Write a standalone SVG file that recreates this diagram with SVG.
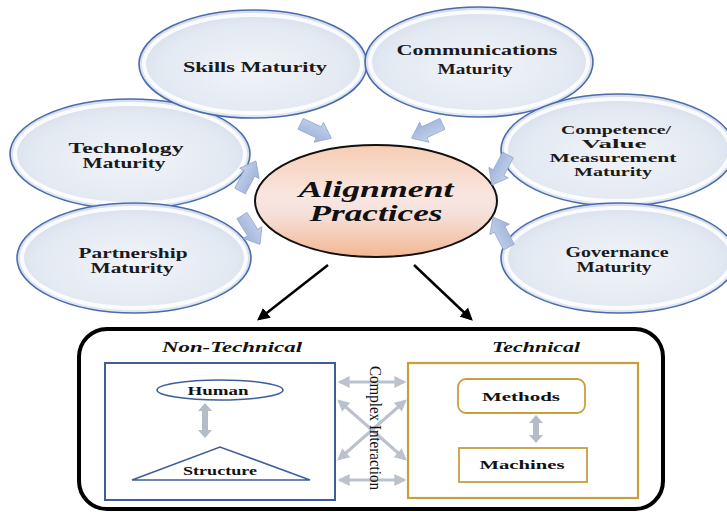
<svg xmlns="http://www.w3.org/2000/svg" width="727" height="512" viewBox="0 0 727 512">
<defs>
<radialGradient id="gBlue" cx="0.5" cy="0.55" r="0.6">
<stop offset="0" stop-color="#f1f4f9"/>
<stop offset="0.7" stop-color="#e3e9f2"/>
<stop offset="1" stop-color="#cfd8e6"/>
</radialGradient>
<linearGradient id="gPeach" x1="0" y1="0" x2="0" y2="1">
<stop offset="0" stop-color="#f6cdb3"/>
<stop offset="0.45" stop-color="#f9e6e0"/>
<stop offset="0.6" stop-color="#f6e2dc"/>
<stop offset="1" stop-color="#f2b793"/>
</linearGradient>
<linearGradient id="gArr" x1="0" y1="0" x2="0" y2="1">
<stop offset="0" stop-color="#c3d1ea"/>
<stop offset="1" stop-color="#9fb3da"/>
</linearGradient>
<path id="blk" d="M-17,-6 L3,-6 L3,-11 L17,0 L3,11 L3,6 L-17,6 Z"/>
<marker id="mBlack" viewBox="0 0 10 10" refX="8" refY="5" markerWidth="5" markerHeight="5" orient="auto">
<path d="M0,0 L10,5 L0,10 Z" fill="#000"/>
</marker>
<marker id="mGrey" viewBox="0 0 10 10" refX="8" refY="5" markerWidth="4" markerHeight="4" orient="auto-start-reverse">
<path d="M0,0 L10,5 L0,10 Z" fill="#bcc2cb"/>
</marker>
</defs>
<style>
.mat{fill:url(#gBlue);stroke:#4a6cad;stroke-width:1.6}
.hl{fill:none;stroke:#ffffff;stroke-width:4;opacity:0.85}
.lbl{font-family:"Liberation Serif","Times New Roman",serif;font-weight:bold;font-size:15px;fill:#1a1a1a;text-anchor:middle}
.lbs{font-size:13.5px}
.big{font-family:"Liberation Serif","Times New Roman",serif;font-weight:bold;font-style:italic;font-size:23px;fill:#111;text-anchor:middle}
.hd{font-family:"Liberation Serif","Times New Roman",serif;font-weight:bold;font-style:italic;font-size:14px;fill:#111;text-anchor:middle}
.sm{font-family:"Liberation Serif","Times New Roman",serif;font-weight:bold;font-size:12px;fill:#111;text-anchor:middle}
.ba{fill:url(#gArr);stroke:#94a9d2;stroke-width:0.8}
.grey{stroke:#bcc2cb;stroke-width:3;fill:none}
.dbl{fill:#b5bcc7}
</style>

<g id="node-technology">
<ellipse class="mat" cx="130" cy="154" rx="120" ry="55"/>
<ellipse class="hl" cx="130" cy="154" rx="115" ry="50"/>
<text class="lbl"><tspan x="126" y="153" textLength="115" lengthAdjust="spacingAndGlyphs">Technology</tspan><tspan x="124" y="168" textLength="83" lengthAdjust="spacingAndGlyphs">Maturity</tspan></text>
</g>
<g id="node-partnership">
<ellipse class="mat" cx="134" cy="258" rx="117" ry="55"/>
<ellipse class="hl" cx="134" cy="258" rx="112" ry="50"/>
<text class="lbl"><tspan x="133" y="258" textLength="109" lengthAdjust="spacingAndGlyphs">Partnership</tspan><tspan x="132" y="273" textLength="83" lengthAdjust="spacingAndGlyphs">Maturity</tspan></text>
</g>
<g id="node-skills">
<ellipse class="mat" cx="253" cy="64" rx="114" ry="54"/>
<ellipse class="hl" cx="253" cy="64" rx="109" ry="49"/>
<text class="lbl" x="255" y="72" textLength="144" lengthAdjust="spacingAndGlyphs">Skills Maturity</text>
</g>
<g id="node-communications">
<ellipse class="mat" cx="479" cy="62" rx="114" ry="55"/>
<ellipse class="hl" cx="479" cy="62" rx="109" ry="50"/>
<text class="lbl"><tspan x="477" y="55" textLength="161" lengthAdjust="spacingAndGlyphs">Communications</tspan><tspan x="475" y="74" textLength="75" lengthAdjust="spacingAndGlyphs">Maturity</tspan></text>
</g>
<g id="node-competence">
<ellipse class="mat" cx="618" cy="150" rx="117" ry="56"/>
<ellipse class="hl" cx="618" cy="150" rx="112" ry="51"/>
<text class="lbl lbs"><tspan x="616" y="134" textLength="110" lengthAdjust="spacingAndGlyphs">Competence/</tspan><tspan x="614" y="148" textLength="65" lengthAdjust="spacingAndGlyphs">Value</tspan><tspan x="613" y="162" textLength="127" lengthAdjust="spacingAndGlyphs">Measurement</tspan><tspan x="613" y="176" textLength="78" lengthAdjust="spacingAndGlyphs">Maturity</tspan></text>
</g>
<g id="node-governance">
<ellipse class="mat" cx="619" cy="258" rx="118" ry="55"/>
<ellipse class="hl" cx="619" cy="258" rx="113" ry="50"/>
<text class="lbl"><tspan x="617" y="257" textLength="103" lengthAdjust="spacingAndGlyphs">Governance</tspan><tspan x="614" y="272" textLength="75" lengthAdjust="spacingAndGlyphs">Maturity</tspan></text>
</g>
<g id="node-alignment">
<ellipse cx="376" cy="201" rx="121" ry="56" fill="url(#gPeach)" stroke="#111" stroke-width="2"/>
<text class="big"><tspan x="376" y="197" textLength="155" lengthAdjust="spacingAndGlyphs">Alignment</tspan><tspan x="376" y="221" textLength="133" lengthAdjust="spacingAndGlyphs">Practices</tspan></text>
</g>

<g id="connectors">
<use href="#blk" class="ba" transform="translate(316,131) rotate(25)"/>
<use href="#blk" class="ba" transform="translate(427,131) rotate(155)"/>
<use href="#blk" class="ba" transform="translate(248,176) rotate(-62)"/>
<use href="#blk" class="ba" transform="translate(251,230) rotate(58)"/>
<use href="#blk" class="ba" transform="translate(500,170) rotate(118)"/>
<use href="#blk" class="ba" transform="translate(501,232) rotate(-118)"/>
<line x1="328" y1="265" x2="259" y2="319" stroke="#000" stroke-width="2.5" marker-end="url(#mBlack)"/>
<line x1="414" y1="265" x2="471" y2="319" stroke="#000" stroke-width="2.5" marker-end="url(#mBlack)"/>
<line class="grey" x1="340" y1="382" x2="404" y2="382" marker-start="url(#mGrey)" marker-end="url(#mGrey)"/>
<line class="grey" x1="340" y1="480" x2="404" y2="480" marker-start="url(#mGrey)" marker-end="url(#mGrey)"/>
<line class="grey" x1="339" y1="401" x2="405" y2="459" marker-start="url(#mGrey)" marker-end="url(#mGrey)"/>
<line class="grey" x1="339" y1="459" x2="405" y2="401" marker-start="url(#mGrey)" marker-end="url(#mGrey)"/>
<polygon class="dbl" points="205,403 212,411 208,411 208,430 212,430 205,438 198,430 202,430 202,411 198,411"/>
<polygon class="dbl" points="536,415 543,423 539,423 539,435 543,435 536,443 529,435 533,435 533,423 529,423"/>
</g>

<g id="container">
<rect x="79" y="329" width="584" height="180" rx="28" fill="none" stroke="#000" stroke-width="4"/>
</g>
<g id="group-nontechnical">
<text class="hd" x="232" y="352" textLength="140" lengthAdjust="spacingAndGlyphs">Non-Technical</text>
<rect x="105" y="363" width="230" height="137" fill="none" stroke="#3d5e9c" stroke-width="2"/>
</g>
<g id="node-human">
<ellipse cx="220" cy="390" rx="63" ry="10" fill="#fff" stroke="#3d5e9c" stroke-width="1.6"/>
<text class="sm" x="218" y="395" textLength="61" lengthAdjust="spacingAndGlyphs">Human</text>
</g>
<g id="node-structure">
<polygon points="132,480 220,447 310,480" fill="#fff" stroke="#3d5e9c" stroke-width="1.6"/>
<text class="sm" x="220" y="475" textLength="74" lengthAdjust="spacingAndGlyphs">Structure</text>
</g>
<g id="group-technical">
<text class="hd" x="536" y="352" textLength="88" lengthAdjust="spacingAndGlyphs">Technical</text>
<rect x="408" y="363" width="230" height="135" fill="none" stroke="#c7a03e" stroke-width="2.2"/>
</g>
<g id="node-methods">
<rect x="458" y="379" width="127" height="34" rx="8" fill="#fff" stroke="#c7a03e" stroke-width="1.8"/>
<text class="sm" x="521" y="401" textLength="78" lengthAdjust="spacingAndGlyphs">Methods</text>
</g>
<g id="node-machines">
<rect x="459" y="448" width="128" height="34" fill="#fff" stroke="#c7a03e" stroke-width="1.8"/>
<text class="sm" x="522" y="469" textLength="85" lengthAdjust="spacingAndGlyphs">Machines</text>
</g>
<g id="label-complex">
<text x="0" y="0" transform="translate(370,428) rotate(90)" font-family="'Liberation Serif','Times New Roman',serif" font-size="16" fill="#111" text-anchor="middle" textLength="124" lengthAdjust="spacingAndGlyphs">Complex Interaction</text>
</g>
</svg>
